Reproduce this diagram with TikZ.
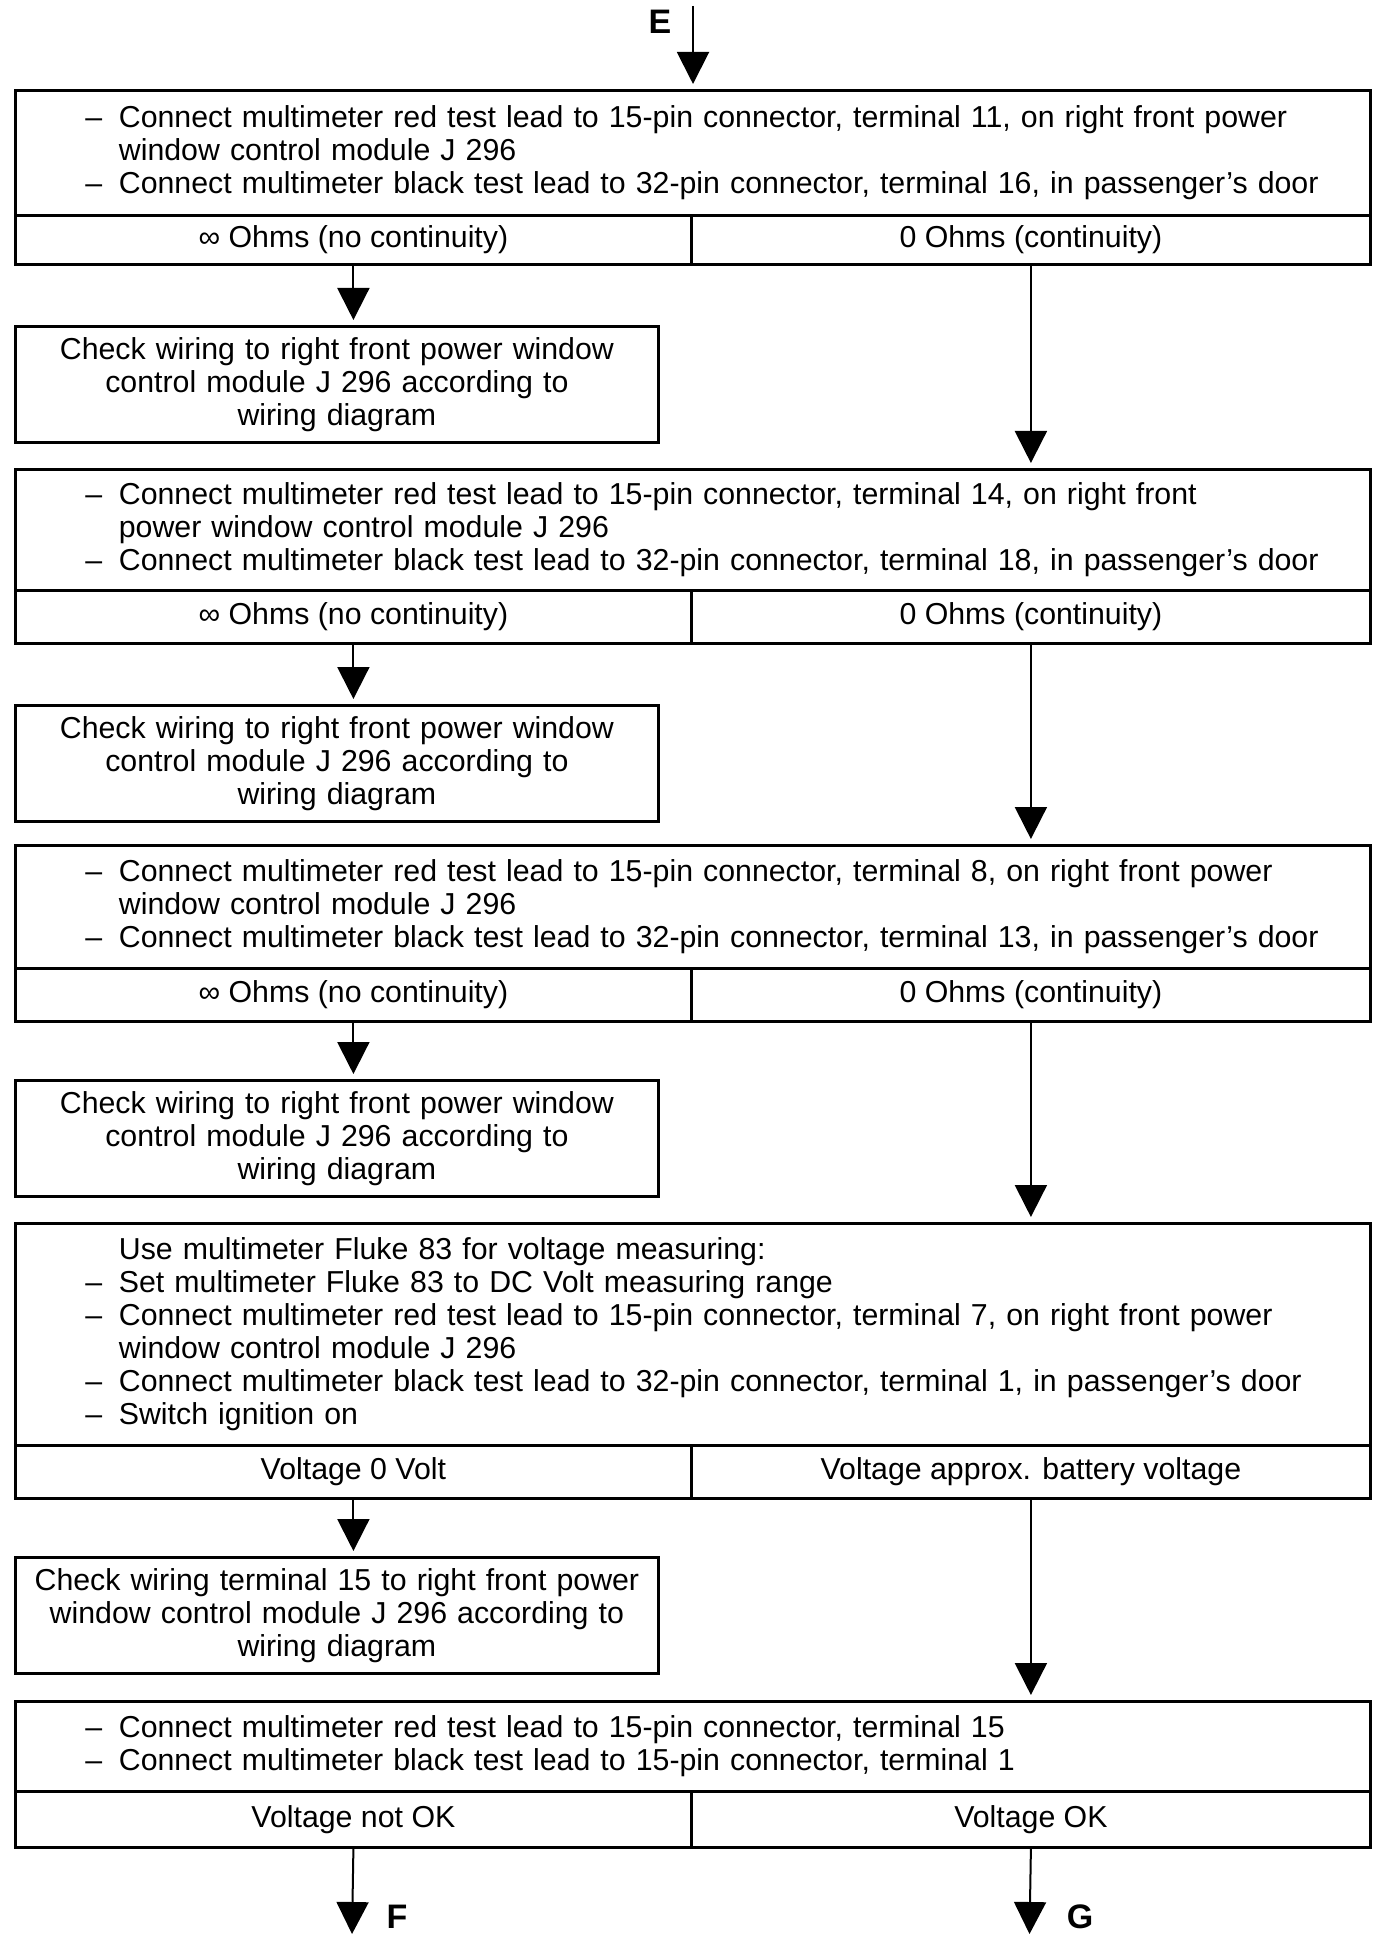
\documentclass[tikz,border=0pt]{standalone}
\usepackage{fontspec}
\setmainfont{Liberation Sans}
\usetikzlibrary{arrows.meta,calc}
\newcommand\bodyfont{\fontsize{15.15pt}{16.5pt}\selectfont}
\newcommand\di[1]{\mbox{\makebox[16.75pt][l]{–}#1}}
\newcommand\ci[1]{\mbox{\hspace*{16.75pt}#1}}
\newcommand\qrow[7]{%
  \node[qbox, minimum height={(#3-#2)*0.5pt}] (#1) at (14,#2) {#5};
  \node[abox, minimum width=338pt, minimum height={(#4-#3)*0.5pt}] (#1a) at (14,#3) {#6};
  \node[abox, minimum width=339.5pt, minimum height={(#4-#3)*0.5pt}] (#1b) at (690,#3) {#7};
}
\tikzset{
  qbox/.style={draw, line width=1.4pt, anchor=north west, minimum width=677.5pt,
    text width=607.5pt, inner xsep=35pt, inner ysep=0pt, align=left, font=\bodyfont},
  abox/.style={draw, line width=1.4pt, anchor=north west, inner sep=0pt, font=\bodyfont},
  cbox/.style={draw, line width=1.4pt, anchor=north west, minimum width=321.5pt,
    minimum height=58pt, text width=310pt, inner xsep=5.75pt, inner ysep=0pt,
    align=center, font=\bodyfont},
  conn/.style={line width=1pt, -{Triangle[width=16pt,length=16pt]}, shorten >=2.5pt},
  lbl/.style={font=\fontsize{17pt}{17pt}\selectfont\bfseries, inner sep=0pt}
}
\begin{document}
\begin{tikzpicture}[x=0.5pt, y=-0.5pt]
\useasboundingbox (0,0) rectangle (1392,1946);

\node[lbl] (E) at (660,22) {E};
\coordinate (ein) at (693,6);

\qrow{q1}{89}{214}{263}{%
\di{Connect multimeter red test lead to 15-pin connector, terminal 11, on right front power}\\
\ci{window control module J 296}\\
\di{Connect multimeter black test lead to 32-pin connector, terminal 16, in passenger’s door}}%
{∞ Ohms (no continuity)}{0 Ohms (continuity)}

\node[cbox] (c1) at (14,325) {Check wiring to right front power window\\control module J 296 according to\\wiring diagram};

\qrow{q2}{468}{589}{642}{%
\di{Connect multimeter red test lead to 15-pin connector, terminal 14, on right front}\\
\ci{power window control module J 296}\\
\di{Connect multimeter black test lead to 32-pin connector, terminal 18, in passenger’s door}}%
{∞ Ohms (no continuity)}{0 Ohms (continuity)}

\node[cbox] (c2) at (14,704) {Check wiring to right front power window\\control module J 296 according to\\wiring diagram};

\qrow{q3}{844}{967}{1020}{%
\di{Connect multimeter red test lead to 15-pin connector, terminal 8, on right front power}\\
\ci{window control module J 296}\\
\di{Connect multimeter black test lead to 32-pin connector, terminal 13, in passenger’s door}}%
{∞ Ohms (no continuity)}{0 Ohms (continuity)}

\node[cbox] (c3) at (14,1079) {Check wiring to right front power window\\control module J 296 according to\\wiring diagram};

\qrow{q4}{1222}{1444}{1497}{%
\ci{Use multimeter Fluke 83 for voltage measuring:}\\
\di{Set multimeter Fluke 83 to DC Volt measuring range}\\
\di{Connect multimeter red test lead to 15-pin connector, terminal 7, on right front power}\\
\ci{window control module J 296}\\
\di{Connect multimeter black test lead to 32-pin connector, terminal 1, in passenger’s door}\\
\di{Switch ignition on}}%
{Voltage 0 Volt}{Voltage approx. battery voltage}

\node[cbox] (c4) at (14,1556) {Check wiring terminal 15 to right front power\\window control module J 296 according to\\wiring diagram};

\qrow{q5}{1700}{1790}{1846}{%
\di{Connect multimeter red test lead to 15-pin connector, terminal 15}\\
\di{Connect multimeter black test lead to 15-pin connector, terminal 1}}%
{Voltage not OK}{Voltage OK}

\coordinate (fout) at (352,1934);
\coordinate (gout) at (1029.5,1934);
\node[lbl] (F) at (397,1917) {F};
\node[lbl] (G) at (1080,1917) {G};

\draw[conn] (ein) -- (ein |- q1.north);
\draw[conn] (q1a.south) -- (q1a.south |- c1.north);
\draw[conn] (q1b.south) -- (q1b.south |- q2.north);
\draw[conn] (q2a.south) -- (q2a.south |- c2.north);
\draw[conn] (q2b.south) -- (q2b.south |- q3.north);
\draw[conn] (q3a.south) -- (q3a.south |- c3.north);
\draw[conn] (q3b.south) -- (q3b.south |- q4.north);
\draw[conn] (q4a.south) -- (q4a.south |- c4.north);
\draw[conn] (q4b.south) -- (q4b.south |- q5.north);
\draw[conn, shorten >=0pt] (q5a.south) -- (fout);
\draw[conn, shorten >=0pt] (q5b.south) -- (gout);
\end{tikzpicture}
\end{document}
